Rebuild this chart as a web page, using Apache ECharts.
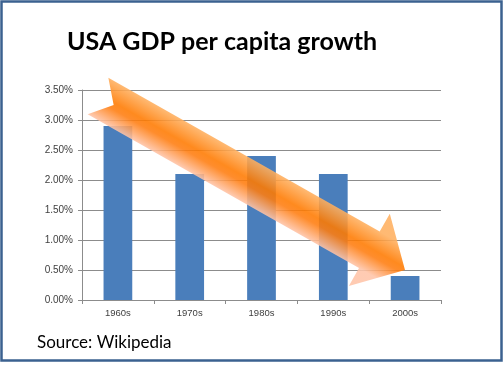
<!DOCTYPE html>
<html>
<head>
<meta charset="utf-8">
<script src="https://cdn.jsdelivr.net/npm/echarts@6/dist/echarts.min.js"></script>
<style>
html,body{margin:0;padding:0;background:#fff;}
#c{width:504px;height:366px;}
</style>
</head>
<body>
<div id="c"></div>
<script>
var categories = ['1960s', '1970s', '1980s', '1990s', '2000s'];
var growth = [2.9, 2.1, 2.4, 2.1, 0.4];
var yTicks = { min: 0, max: 3.5, interval: 0.5 };
var titleText = 'USA GDP per capita growth';
var sourceText = 'Source: Wikipedia';

// Decorative arrow geometry (pixels)
function arrowPoints(tx, ty, hx, hy, shaftHalf, headHalf, headLen, notch) {
  var dx = hx - tx, dy = hy - ty;
  var L = Math.sqrt(dx * dx + dy * dy);
  var ux = dx / L, uy = dy / L;
  var nx = -uy, ny = ux;
  function P(a, p) { return [tx + ux * a + nx * p, ty + uy * a + ny * p]; }
  var b = L - headLen;
  return {
    pts: [P(0, -shaftHalf), P(b, -shaftHalf), P(b, -headHalf), P(L, 0), P(b, headHalf), P(b, shaftHalf), P(0, shaftHalf), P(notch, 0)],
    g1: P(b * 0.5, -shaftHalf), g2: P(b * 0.5, shaftHalf)
  };
}
var arr = arrowPoints(98, 96, 405, 270, 21, 41.5, 41, 18);

var chart = echarts.init(document.getElementById('c'), null, { renderer: 'canvas' });
chart.setOption({
  backgroundColor: '#ffffff',
  animation: false,
  title: {
    text: titleText,
    left: 62, top: 24,
    textStyle: { fontFamily: 'Lato', fontWeight: 'bold', fontSize: 25, color: '#000000' }
  },
  grid: { left: 82, right: 63, top: 90, bottom: 66, containLabel: false },
  xAxis: {
    type: 'category',
    data: categories,
    axisLine: { lineStyle: { color: '#8c8c8c', width: 1 } },
    axisTick: { show: true, alignWithLabel: false, length: 4, lineStyle: { color: '#8c8c8c' } },
    axisLabel: { fontFamily: 'Liberation Sans', fontSize: 9.5, color: '#404040', margin: 8 }
  },
  yAxis: {
    type: 'value',
    min: yTicks.min, max: yTicks.max, interval: yTicks.interval,
    axisLine: { show: true, lineStyle: { color: '#8c8c8c', width: 1 } },
    axisTick: { show: true, length: 4, inside: false, lineStyle: { color: '#8c8c8c' } },
    splitLine: { show: true, lineStyle: { color: '#8c8c8c', width: 1 } },
    axisLabel: {
      fontFamily: 'Liberation Sans', fontSize: 10, color: '#404040', margin: 9,
      formatter: function (v) { return v.toFixed(2) + '%'; }
    }
  },
  series: [{
    type: 'bar',
    data: growth,
    barWidth: '40%',
    itemStyle: { color: '#4a7ebb' },
    z: 2
  }],
  graphic: [
    {
      type: 'rect', z: -10, silent: true,
      shape: { x: 1.5, y: 1.5, width: 500, height: 359 },
      style: { fill: 'none', stroke: '#3b6190', lineWidth: 2.5 }
    },
    {
      type: 'polygon', z: 100, silent: true,
      shape: { points: arr.pts },
      style: {
        opacity: 0.88,
        fill: {
          type: 'linear', global: true,
          x: arr.g1[0], y: arr.g1[1], x2: arr.g2[0], y2: arr.g2[1],
          colorStops: [
            { offset: 0, color: '#ffb060' },
            { offset: 0.45, color: '#ff7a00' },
            { offset: 0.6, color: '#ff7d10' },
            { offset: 1, color: '#ffc4a8' }
          ]
        }
      }
    },
    {
      type: 'text', left: 37, top: 334, silent: true,
      style: { text: sourceText, fontFamily: 'Lato', fontSize: 17, fill: '#000000' }
    }
  ]
});
</script>
</body>
</html>
